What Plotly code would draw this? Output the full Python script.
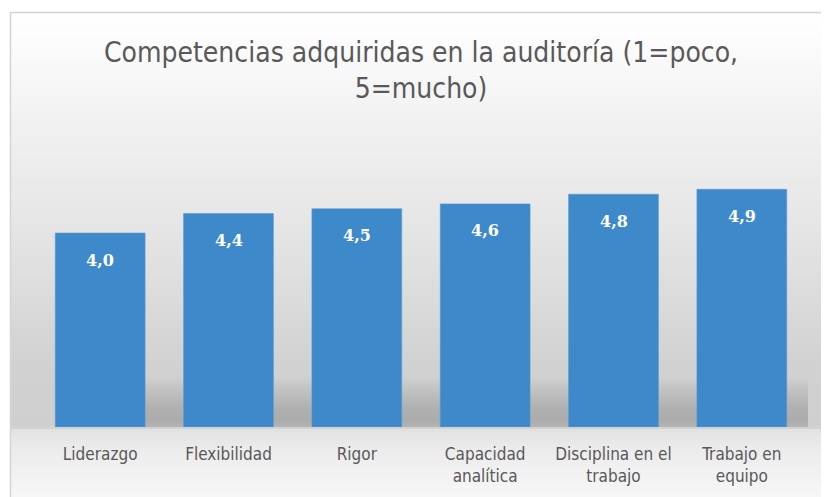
import plotly.graph_objects as go

categories = ["Liderazgo", "Flexibilidad", "Rigor", "Capacidad<br>analítica",
              "Disciplina en el<br>trabajo", "Trabajo en<br>equipo"]
values = [4.0, 4.4, 4.5, 4.6, 4.8, 4.9]
value_labels = ["4,0", "4,4", "4,5", "4,6", "4,8", "4,9"]
title_text = "Competencias adquiridas en la auditoría (1=poco,<br>5=mucho)"

OFF = 8  # page body margin
W, H = 829 - OFF, 497 - OFF
ML, MR, MT, MB = 28, 23, 128, 70
PW = W - ML - MR
PH = H - MT - MB


def px_x(x):
    # x in page pixels -> paper
    return (x - OFF - ML) / PW


def px_y(y):
    return (H - MB - (y - OFF)) / PH


def gray(v):
    v = int(round(v))
    return f"rgb({v},{v},{v})"


def interp(stops, y):
    for (y0, c0), (y1, c1) in zip(stops, stops[1:]):
        if y0 <= y <= y1:
            t = (y - y0) / (y1 - y0) if y1 != y0 else 0
            return c0 + (c1 - c0) * t
    return stops[-1][1]


shapes = []
bg_stops = [(12, 255), (40, 252), (100, 244), (160, 237), (220, 230),
            (280, 222), (330, 214), (370, 209), (427, 207), (430, 226),
            (450, 236), (497, 247)]
step = 3
y = 12
while y < 500:
    c = interp(bg_stops, y + step / 2)
    shapes.append(dict(type="rect", xref="paper", yref="paper",
                       x0=px_x(10), x1=px_x(835), y0=px_y(y + step), y1=px_y(y),
                       fillcolor=gray(c), line=dict(width=0), layer="below"))
    y += step

sh_stops = [(376, 209), (392, 192), (408, 176), (420, 172), (427, 180)]
y = 376
while y < 427:
    c = interp(sh_stops, y + 1)
    shapes.append(dict(type="rect", xref="paper", yref="paper",
                       x0=px_x(145), x1=px_x(808), y0=px_y(min(y + 2, 427)), y1=px_y(y),
                       fillcolor=gray(c), line=dict(width=0), layer="below"))
    y += 2

shapes.append(dict(type="path", xref="paper", yref="paper",
                   path=f"M {px_x(10.5)},{px_y(505)} L {px_x(10.5)},{px_y(12.5)} L {px_x(835)},{px_y(12.5)}",
                   line=dict(color="#d4d4d4", width=1.5), layer="above"))

fig = go.Figure()
fig.add_trace(go.Bar(
    x=categories, y=values,
    marker=dict(color="#3d89ca", line=dict(width=0.6, color="#5a9ad4")),
    hoverinfo="skip",
))

annotations = []
for cat, v, lab in zip(categories, values, value_labels):
    annotations.append(dict(x=cat, y=v, xref="x", yref="y", text=f"<b>{lab}</b>",
                            showarrow=False, yanchor="middle", yshift=-27,
                            font=dict(family="DejaVu Serif", size=16, color="white")))

fig.update_layout(
    width=W, height=H,
    margin=dict(l=ML, r=MR, t=MT, b=MB),
    paper_bgcolor="white",
    plot_bgcolor="rgba(0,0,0,0)",
    bargap=0.3,
    showlegend=False,
    title=dict(text=title_text, x=0.5, xref="paper", xanchor="center",
               y=1 - (62 - OFF) / H, yanchor="middle",
               font=dict(family="DejaVu Sans Condensed, Liberation Sans Narrow, sans-serif",
                         size=28, color="#595959")),
    xaxis=dict(showline=False, showgrid=False, ticks="", zeroline=False,
               tickfont=dict(family="DejaVu Sans Condensed, Liberation Sans Narrow, sans-serif",
                             size=17, color="#595959"),
               ticklabelstandoff=15),
    yaxis=dict(range=[0, 6], visible=False, showgrid=False, zeroline=False),
    shapes=shapes,
    annotations=annotations,
)

fig.write_html("out.html")
